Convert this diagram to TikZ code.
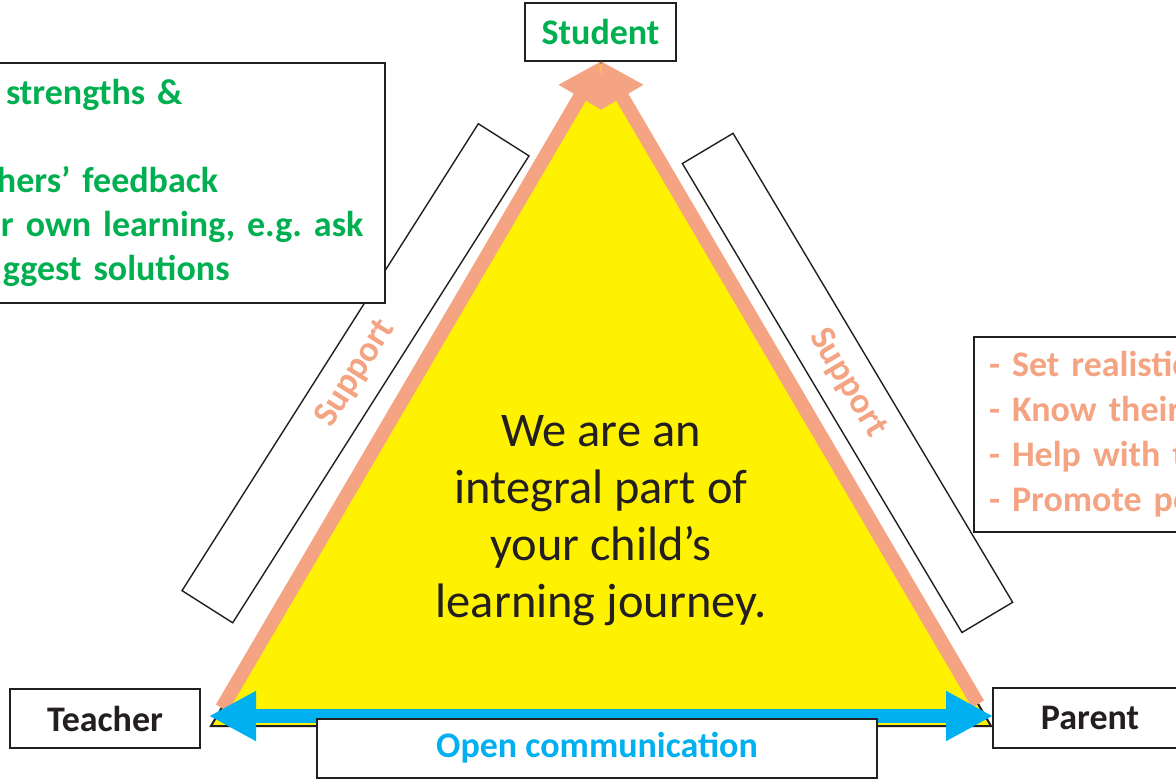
\documentclass[tikz,border=0pt]{standalone}
\usepackage{fontspec}
\setmainfont{Carlito}
\usetikzlibrary{arrows.meta}
\definecolor{stugreen}{HTML}{00B050}
\definecolor{salmon}{HTML}{F4A482}
\definecolor{commblue}{HTML}{00B0F0}
\definecolor{inkdark}{HTML}{231F20}
\frenchspacing
\begin{document}
\begin{tikzpicture}[
    x=0.5pt, y=-0.5pt,
    block/.style={rectangle, draw=inkdark, line width=1pt, fill=white, inner sep=0pt, font=\bfseries\fontsize{18}{22}\selectfont},
    band/.style={rectangle, draw=inkdark, line width=0.7pt, fill=white, text=salmon, font=\bfseries\fontsize{18}{22}\selectfont},
    arrow/.style={line width=7pt, salmon, -{Triangle[length=21pt, width=23pt]}},
    twoway/.style={line width=7pt, commblue, {Triangle[length=23.5pt, width=23.5pt]}-{Triangle[length=23.5pt, width=23.5pt]}}
]
    \clip (0,0) rectangle (1176,778);
    \fill[white] (0,0) rectangle (1176,778);

    \coordinate (apexpt) at (601,61);
    \coordinate (cornerT) at (211,726);
    \coordinate (cornerP) at (991,726);
    \coordinate (tstart) at (222,708);
    \coordinate (pstart) at (978,704);
    \coordinate (bl) at (209,716);
    \coordinate (br) at (993,716);

    \fill[yellow, draw=inkdark, line width=1pt] (apexpt) -- (cornerT) -- (cornerP) -- cycle;

    \node [align=center, text=inkdark, font=\fontsize{24.2}{28.5}\selectfont] (motto) at (601,521) {We are an\\integral part of\\your child’s\\learning journey.};

    \node [band, rotate=57.6, minimum width=276.5pt, minimum height=30pt] (supportT) at (355.5,373.25) {Support};
    \node [band, rotate=-59.2, minimum width=273pt, minimum height=29.5pt] (supportP) at (847.5,382.9) {Support};

    \node [block, minimum width=75.5pt, minimum height=29pt, text=stugreen] (student) at (600.5,32) {Student};
    \node [block, minimum width=95pt, minimum height=29.5pt, text=inkdark] (teacher) at (105,718.5) {Teacher};
    \node [block, minimum width=97pt, minimum height=30pt, text=inkdark] (parent) at (1090,718) {Parent};

    \node [block, anchor=north west, text=stugreen, align=left, text width=184pt, minimum height=120pt, inner xsep=8pt] (studentroles) at (-16,62) {\hspace{2.5pt}strengths \&\\ \mbox{}\\\hspace{-2pt}hers’ feedback\\r own learning, e.g. ask\\\hspace{1pt}ggest solutions};
    \node [block, anchor=west, text=salmon, align=left, text width=150pt, minimum height=97.5pt, inner xsep=7.5pt, font=\bfseries\fontsize{18}{22.5}\selectfont] (parentroles) at (973,434.5) {- Set realistic\\- Know their\\- Help with t\\- Promote po};

    \draw [arrow] (tstart) -- (apexpt);
    \draw [arrow] (pstart) -- (apexpt);
    \draw [twoway] (bl) -- (br);

    \node [block, minimum width=280pt, minimum height=29.5pt, text=commblue] (comm) at (597,748) {Open communication};
\end{tikzpicture}
\end{document}
